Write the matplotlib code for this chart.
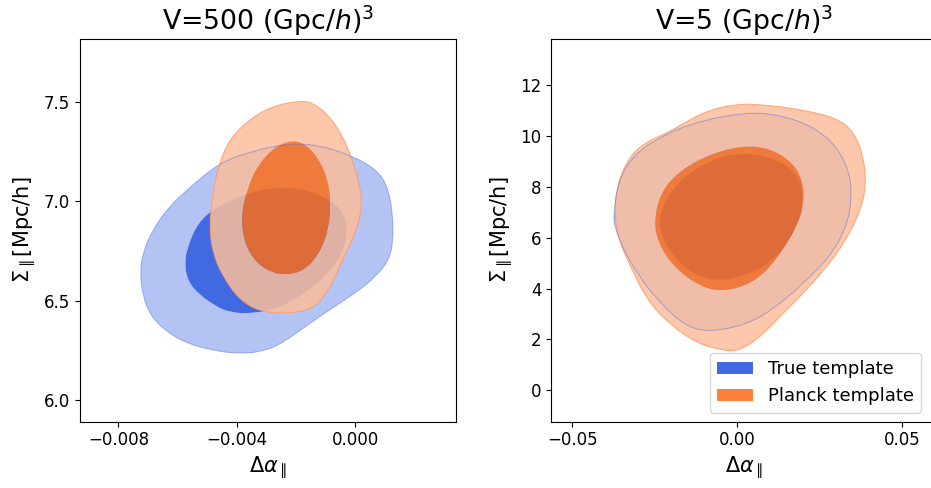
import numpy as np
import matplotlib
matplotlib.use('Agg')
import matplotlib.pyplot as plt
from matplotlib.path import Path
from matplotlib.patches import PathPatch, Patch

# contour outlines (control points), data units
# left panel, V=500 (Gpc/h)^3
true95_v500_x = [-0.00459, -0.00347, -0.00223, -0.00122, -0.00009, 0.00070, 0.00109, 0.00126, 0.00128,
                 0.00115, 0.00070, 0.00002, -0.00121, -0.00245, -0.00312, -0.00392, -0.00482, -0.00572,
                 -0.00639, -0.00690, -0.00718, -0.00727, -0.00718, -0.00684, -0.00628, -0.00560]
true95_v500_y = [7.195, 7.254, 7.293, 7.283, 7.229, 7.162, 7.078, 6.943, 6.808,
                 6.707, 6.623, 6.539, 6.421, 6.286, 6.244, 6.232, 6.249, 6.286,
                 6.345, 6.421, 6.522, 6.640, 6.741, 6.859, 6.976, 7.069]

true68_v500_x = [-0.00577, -0.00566, -0.00532, -0.00470, -0.00347, -0.00257, -0.00167, -0.00088, -0.00037,
                 -0.00026, -0.00043, -0.00088, -0.00167, -0.00257, -0.00347, -0.00425, -0.00470, -0.00527,
                 -0.00566]
true68_v500_y = [6.690, 6.774, 6.892, 6.973, 7.052, 7.072, 7.061, 7.010, 6.943,
                 6.842, 6.741, 6.640, 6.539, 6.463, 6.434, 6.441, 6.471, 6.530,
                 6.598]

planck95_v500_x = [-0.00189, -0.00279, -0.00358, -0.00425, -0.00459, -0.00482, -0.00493, -0.00482, -0.00448,
                   -0.00392, -0.00324, -0.00234, -0.00144, -0.00088, -0.00043, 0.00002, 0.00023, 0.00014,
                   -0.00015, -0.00043, -0.00088, -0.00144]
planck95_v500_y = [7.507, 7.481, 7.414, 7.313, 7.195, 7.044, 6.875, 6.741, 6.623,
                   6.505, 6.446, 6.434, 6.455, 6.556, 6.707, 6.842, 6.976, 7.094,
                   7.229, 7.330, 7.431, 7.498]

planck68_v500_x = [-0.00212, -0.00268, -0.00324, -0.00363, -0.00386, -0.00375, -0.00335, -0.00279,
                   -0.00234, -0.00178, -0.00127, -0.00093, -0.00082, -0.00093, -0.00122, -0.00167]
planck68_v500_y = [7.310, 7.279, 7.195, 7.077, 6.926, 6.791, 6.690, 6.640,
                   6.631, 6.648, 6.724, 6.842, 6.993, 7.111, 7.212, 7.288]

# right panel, V=5 (Gpc/h)^3
true95_v5_x = [-0.0375, -0.0360, -0.0314, -0.0233, -0.0122, 0.0029, 0.0130, 0.0231, 0.0302, 0.0342, 0.0347,
               0.0332, 0.0282, 0.0201, 0.0120, 0.0029, -0.0092, -0.0163, -0.0243, -0.0304, -0.0344, -0.0373]
true95_v5_y = [6.96, 8.28, 9.26, 9.98, 10.57, 10.94, 10.83, 10.37, 9.59, 8.54, 7.49,
               6.44, 5.26, 4.21, 3.29, 2.57, 2.28, 2.57, 3.55, 4.60, 5.52, 6.44]

true68_v5_x = [-0.0238, -0.0203, -0.0122, -0.0021, 0.0080, 0.0161, 0.0201, 0.0196,
               0.0161, 0.0100, 0.0019, -0.0062, -0.0142, -0.0203, -0.0233]
true68_v5_y = [6.83, 7.88, 8.80, 9.32, 9.26, 8.80, 8.01, 6.96,
               5.91, 5.00, 4.47, 4.28, 4.60, 5.39, 6.18]

planck95_v5_x = [-0.0203, -0.0102, -0.0001, 0.0080, 0.0201, 0.0302, 0.0353, 0.0383, 0.0391, 0.0378, 0.0342,
                 0.0282, 0.0201, 0.0120, 0.0060, -0.0001, -0.0052, -0.0122, -0.0203, -0.0274, -0.0324,
                 -0.0360, -0.0373, -0.0365, -0.0334, -0.0284]
planck95_v5_y = [10.18, 10.96, 11.27, 11.23, 11.03, 10.70, 10.18, 9.19, 8.14, 7.23, 6.18,
                 5.00, 3.82, 2.77, 1.98, 1.52, 1.59, 1.85, 2.57, 3.55, 4.87,
                 5.91, 6.96, 8.01, 9.06, 9.72]

planck68_v5_x = [-0.0252, -0.0233, -0.0183, -0.0102, 0.0009, 0.0100, 0.0171, 0.0201,
                 0.0201, 0.0181, 0.0120, 0.0049, -0.0052, -0.0132, -0.0203, -0.0243]
planck68_v5_y = [6.70, 7.75, 8.54, 9.19, 9.63, 9.52, 8.93, 8.14,
                 7.23, 6.44, 5.13, 4.21, 3.84, 4.21, 5.00, 5.91]

titles = [r'V=500 (Gpc/$h$)$^3$', r'V=5 (Gpc/$h$)$^3$']
labels = ['True template', 'Planck template']


def ctrl(xs, ys, ccw=True):
    p = np.column_stack([xs, ys]).astype(float)
    area = 0.5 * np.sum(p[:, 0] * np.roll(p[:, 1], -1) - np.roll(p[:, 0], -1) * p[:, 1])
    if (area > 0) != ccw:
        p = p[::-1]
    return p


def smooth_path(p):
    # closed quadratic b-spline through the control points
    n = len(p)
    mids = (p + np.roll(p, -1, axis=0)) / 2
    verts = [mids[-1]]
    codes = [Path.MOVETO]
    for i in range(n):
        verts += [p[i], mids[i]]
        codes += [Path.CURVE3, Path.CURVE3]
    verts.append(mids[-1])
    codes.append(Path.CLOSEPOLY)
    return Path(verts, codes)


def draw_pair(ax, outer, inner, c_out, a_out, c_in, a_in, ec, z):
    # 95% band drawn as a ring around the 68% region
    p_out = smooth_path(ctrl(*outer, ccw=True))
    p_hole = smooth_path(ctrl(*inner, ccw=False))
    ring = Path.make_compound_path(p_out, p_hole)
    ax.add_patch(PathPatch(ring, facecolor=c_out, alpha=a_out, edgecolor='none', zorder=z))
    ax.add_patch(PathPatch(smooth_path(ctrl(*inner)), facecolor=c_in, alpha=a_in,
                           edgecolor='none', zorder=z))
    return p_out


blue = 'royalblue'
orange = '#ff7f3f'

fig = plt.figure(figsize=(9.31, 4.88), dpi=100)
ax1 = fig.add_axes([0.0859, 0.1359, 0.4039, 0.7848])
ax2 = fig.add_axes([0.5922, 0.1359, 0.4132, 0.7848])

panels = [
    (ax1, (true95_v500_x, true95_v500_y), (true68_v500_x, true68_v500_y),
     (planck95_v500_x, planck95_v500_y), (planck68_v500_x, planck68_v500_y)),
    (ax2, (true95_v5_x, true95_v5_y), (true68_v5_x, true68_v5_y),
     (planck95_v5_x, planck95_v5_y), (planck68_v5_x, planck68_v5_y)),
]

for ax, t95, t68, p95, p68 in panels:
    tp = draw_pair(ax, t95, t68, blue, 0.4, blue, 1.0, blue, 1)
    pp = draw_pair(ax, p95, p68, '#fcbe9b', 0.85, '#fb6d1c', 0.85, orange, 2)
    ax.add_patch(PathPatch(pp, facecolor='none', edgecolor='#ff9a66', lw=0.8, alpha=0.8, zorder=3))
    ax.add_patch(PathPatch(tp, facecolor='none', edgecolor=blue, lw=0.7, alpha=0.45, zorder=3))

ax1.set_xlim(-0.0093, 0.0034)
ax1.set_ylim(5.89, 7.82)
ax1.set_xticks([-0.008, -0.004, 0.0])
ax1.set_xticklabels(['\u22120.008', '\u22120.004', '0.000'])
ax1.set_yticks([6.0, 6.5, 7.0, 7.5])

ax2.set_xlim(-0.0564, 0.0603)
ax2.set_ylim(-1.24, 13.83)
ax2.set_xticks([-0.05, 0.0, 0.05])
ax2.set_xticklabels(['\u22120.05', '0.00', '0.05'])
ax2.set_yticks([0, 2, 4, 6, 8, 10, 12])

for ax, t in zip([ax1, ax2], titles):
    ax.set_title(t, fontsize=19.3)
    ax.set_xlabel(r'$\Delta\alpha_\parallel$', fontsize=15)
    ax.set_ylabel(r'$\Sigma_\parallel$[Mpc/h]', fontsize=15)
    ax.tick_params(labelsize=12)

handles = [Patch(facecolor=blue), Patch(facecolor=orange)]
ax2.legend(handles, labels, loc='lower right', fontsize=13, bbox_to_anchor=(0.984, 0.0))

fig.savefig('out.png', dpi=100)
